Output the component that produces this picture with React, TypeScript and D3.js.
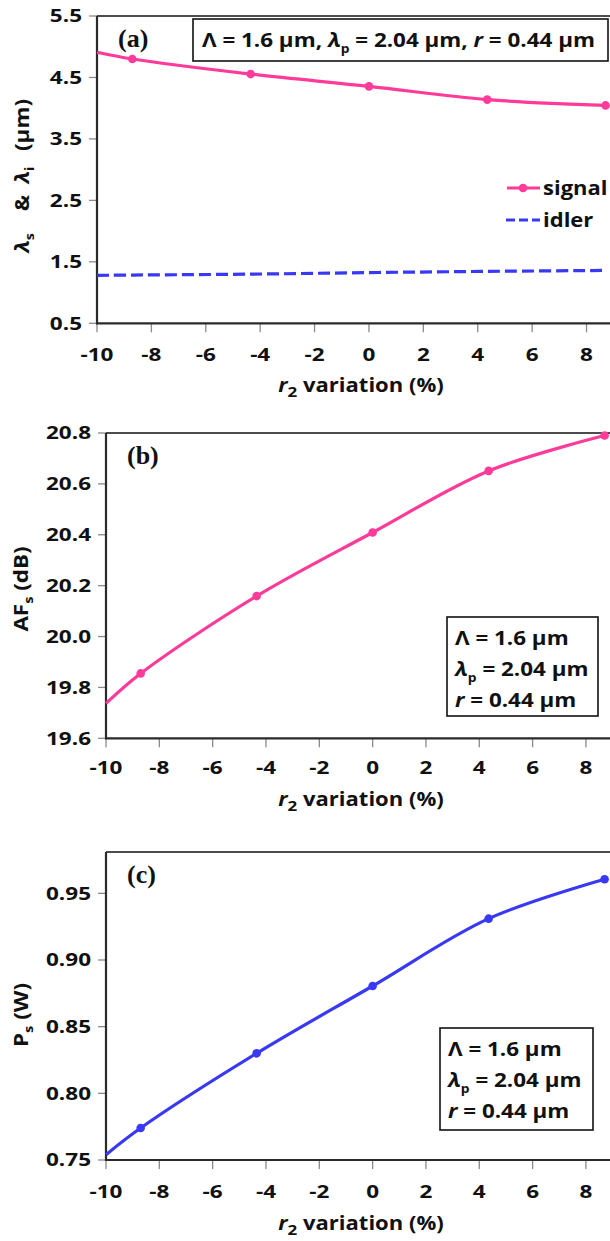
import React from "react";
import * as d3 from "d3";

// r2 variation (%) sampled for every curve
const xVals = [-10, -8.7, -4.35, 0, 4.35, 8.7];
// panel (a): signal and idler wavelengths (µm)
const signalWl = [4.91, 4.8, 4.555, 4.355, 4.14, 4.045];
const idlerWl = [1.28, 1.285, 1.3, 1.325, 1.345, 1.36];
// panel (b): signal amplification factor (dB)
const gainAF = [19.737, 19.855, 20.159, 20.409, 20.651, 20.79];
// panel (c): signal power (W)
const powerPs = [0.754, 0.774, 0.83, 0.8805, 0.931, 0.9606];

const xTicks = [-10, -8, -6, -4, -2, 0, 2, 4, 6, 8];
const yTicksA = [0.5, 1.5, 2.5, 3.5, 4.5, 5.5];
const yTicksB = [19.6, 19.8, 20.0, 20.2, 20.4, 20.6, 20.8];
const yTicksC = [0.75, 0.8, 0.85, 0.9, 0.95];

const PINK = "#ff3b9a";
const BLUE = "#3838f5";
const FONT = "'Open Sans', 'Noto Sans', 'DejaVu Sans', sans-serif";
const SERIF = "'Liberation Serif', 'DejaVu Serif', serif";

// Bold label drawn with a slight horizontal stretch (wide-set lettering)
function T({
  x,
  y,
  fs,
  anchor = "start",
  sx = 1.2,
  rotate = 0,
  children,
}: {
  x: number;
  y: number;
  fs: number;
  anchor?: "start" | "middle" | "end";
  sx?: number;
  rotate?: number;
  children: React.ReactNode;
}) {
  return (
    <text
      transform={`translate(${x},${y}) rotate(${rotate}) scale(${sx},1)`}
      dy="0.36em"
      textAnchor={anchor}
      fontFamily={FONT}
      fontWeight={700}
      fontSize={fs}
      fill="#111"
    >
      {children}
    </text>
  );
}

type Series = {
  values: number[];
  color: string;
  dashed?: boolean;
  markers?: boolean;
};

type PanelProps = {
  left: number;
  right: number;
  top: number;
  bottom: number;
  xMax: number;
  yDomain: [number, number];
  yTicks: number[];
  yFormat: (v: number) => string;
  series: Series[];
  tag: string;
  xTickY: number;
  xTitleY: number;
  yTitle: React.ReactNode;
  children?: React.ReactNode;
};

function Panel(p: PanelProps) {
  const x = d3.scaleLinear().domain([-10, p.xMax]).range([p.left, p.right]);
  const y = d3.scaleLinear().domain(p.yDomain).range([p.bottom, p.top]);
  const line = d3
    .line<number>()
    .x((_, i) => x(xVals[i]))
    .y((d) => y(d))
    .curve(d3.curveCatmullRom.alpha(0.5));

  return (
    <g>
      {/* frame: top and right edges */}
      <line x1={p.left} x2={p.right} y1={p.top} y2={p.top} stroke="#111" strokeWidth={1.6} />
      <line x1={p.right} x2={p.right} y1={p.top} y2={p.bottom} stroke="#111" strokeWidth={1.6} />

      {/* y ticks */}
      {p.yTicks.map((t) => (
        <g key={"y" + t}>
          <line x1={p.left - 8} x2={p.left} y1={y(t)} y2={y(t)} stroke="#8a8a8a" strokeWidth={1.3} />
          <T x={p.left - 15} y={y(t)} fs={18} sx={1.25} anchor="end">
            {p.yFormat(t)}
          </T>
        </g>
      ))}

      {/* x ticks */}
      {xTicks.map((t) => (
        <g key={"x" + t}>
          <line x1={x(t)} x2={x(t)} y1={p.bottom} y2={p.bottom + 9} stroke="#8a8a8a" strokeWidth={1.3} />
          <T x={x(t)} y={p.xTickY} fs={18} sx={1.25} anchor="middle">
            {t}
          </T>
        </g>
      ))}

      {/* axes */}
      <line x1={p.left} x2={p.left} y1={p.top} y2={p.bottom + 1} stroke="#2a2a2a" strokeWidth={2.2} />
      <line x1={p.left - 1} x2={p.right} y1={p.bottom} y2={p.bottom} stroke="#2a2a2a" strokeWidth={2.2} />

      {/* data */}
      {p.series.map((s, k) => (
        <g key={"s" + k}>
          <path
            d={line(s.values) || ""}
            fill="none"
            stroke={s.color}
            strokeWidth={3.2}
            strokeDasharray={s.dashed ? "12 5" : undefined}
          />
          {s.markers &&
            s.values.slice(1).map((v, i) => (
              <circle key={i} cx={x(xVals[i + 1])} cy={y(v)} r={4.3} fill={s.color} />
            ))}
        </g>
      ))}

      {/* panel tag */}
      <text
        x={p.left + 21}
        y={p.top + 22}
        dy="0.35em"
        fontFamily={SERIF}
        fontWeight={700}
        fontSize={26}
        fill="#111"
      >
        {p.tag}
      </text>

      {/* x title */}
      <T x={361} y={p.xTitleY} fs={19.5} sx={1.13} anchor="middle">
        <tspan fontStyle="italic">r</tspan>
        <tspan dy={5} fontSize={15}>2</tspan>
        <tspan dy={-5}> variation (%)</tspan>
      </T>

      {p.yTitle}
      {p.children}
    </g>
  );
}

function ParamBox({ x0, y0, w, h }: { x0: number; y0: number; w: number; h: number }) {
  return (
    <g>
      <rect x={x0} y={y0} width={w} height={h} fill="#fff" stroke="#111" strokeWidth={1.6} />
      <T x={x0 + 8} y={y0 + 21} fs={19.5} sx={1.15}>Λ = 1.6 µm</T>
      <T x={x0 + 8} y={y0 + 52} fs={19.5} sx={1.15}>
        <tspan fontStyle="italic">λ</tspan>
        <tspan dy={6} fontSize={12}>p</tspan>
        <tspan dy={-6}> = 2.04 µm</tspan>
      </T>
      <T x={x0 + 8} y={y0 + 83} fs={19.5} sx={1.15}>
        <tspan fontStyle="italic">r</tspan> = 0.44 µm
      </T>
    </g>
  );
}

export default function App() {
  const fmt1 = d3.format(".1f");
  const fmt2 = d3.format(".2f");
  return (
    <svg
      width={610}
      height={1241}
      style={{ position: "absolute", left: 0, top: 0, background: "#fff" }}
    >
      <rect width={610} height={1241} fill="#fff" />

      {/* (a) wavelengths */}
      <Panel
        left={97}
        right={611}
        top={16}
        bottom={323.3}
        xMax={8.9}
        yDomain={[0.5, 5.5]}
        yTicks={yTicksA}
        yFormat={fmt1}
        series={[
          { values: signalWl, color: PINK, markers: true },
          { values: idlerWl, color: BLUE, dashed: true },
        ]}
        tag="(a)"
        xTickY={355}
        xTitleY={385}
        yTitle={
          <g>
            <T x={22} y={243} fs={20} sx={1.1} rotate={-90} anchor="middle">
              <tspan fontStyle="italic">λ</tspan>
              <tspan dy={5} fontSize={13}>s</tspan>
            </T>
            <T x={22} y={203} fs={20} sx={1.1} rotate={-90} anchor="middle">&amp;</T>
            <T x={22} y={175} fs={20} sx={1.1} rotate={-90} anchor="middle">
              <tspan fontStyle="italic">λ</tspan>
              <tspan dy={5} fontSize={13}>i</tspan>
            </T>
            <T x={22} y={125} fs={20} sx={1.12} rotate={-90} anchor="middle">(µm)</T>
          </g>
        }
      >
        <rect x={193} y={19} width={415} height={42} fill="#fff" stroke="#111" strokeWidth={1.6} />
        <T x={202} y={40} fs={19.5} sx={1.15}>
          Λ = 1.6 µm,{" "}
          <tspan fontStyle="italic">λ</tspan>
          <tspan dy={6} fontSize={12}>p</tspan>
          <tspan dy={-6}> = 2.04 µm, </tspan>
          <tspan fontStyle="italic">r</tspan> = 0.44 µm
        </T>
        {/* legend */}
        <line x1={507} x2={540} y1={188} y2={188} stroke={PINK} strokeWidth={3.2} />
        <circle cx={523} cy={188} r={4.3} fill={PINK} />
        <T x={543} y={188} fs={20} sx={1.1}>signal</T>
        <line x1={506} x2={540} y1={220} y2={220} stroke={BLUE} strokeWidth={3.2} strokeDasharray="9 4" />
        <T x={543} y={220} fs={20} sx={1.1}>idler</T>
      </Panel>

      {/* (b) amplification factor */}
      <Panel
        left={106}
        right={611}
        top={433}
        bottom={738.3}
        xMax={8.94}
        yDomain={[19.6, 20.8]}
        yTicks={yTicksB}
        yFormat={fmt1}
        series={[{ values: gainAF, color: PINK, markers: true }]}
        tag="(b)"
        xTickY={768}
        xTitleY={799}
        yTitle={
          <T x={21} y={589} fs={20} sx={1.12} rotate={-90} anchor="middle">
            AF
            <tspan dy={5} fontSize={13}>s</tspan>
            <tspan dy={-5}> (dB)</tspan>
          </T>
        }
      >
        <ParamBox x0={447} y0={617} w={151} h={99} />
      </Panel>

      {/* (c) signal power */}
      <Panel
        left={106}
        right={611}
        top={852}
        bottom={1160}
        xMax={8.94}
        yDomain={[0.75, 0.981]}
        yTicks={yTicksC}
        yFormat={fmt2}
        series={[{ values: powerPs, color: BLUE, markers: true }]}
        tag="(c)"
        xTickY={1192}
        xTitleY={1223}
        yTitle={
          <T x={21} y={1015} fs={20} sx={1.12} rotate={-90} anchor="middle">
            P
            <tspan dy={5} fontSize={13}>s</tspan>
            <tspan dy={-5}> (W)</tspan>
          </T>
        }
      >
        <ParamBox x0={440} y0={1028} w={153} h={102} />
      </Panel>
    </svg>
  );
}
